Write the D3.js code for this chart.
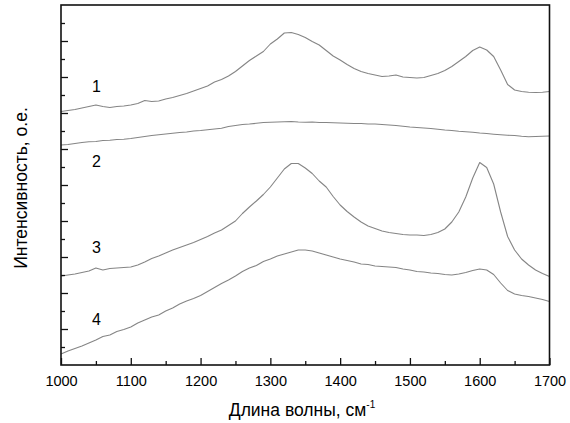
<!DOCTYPE html>
<html><head><meta charset="utf-8">
<script src="https://cdn.jsdelivr.net/npm/d3@7"></script>
<style>
html,body{margin:0;padding:0;background:#fff;}
svg{display:block;font-family:"Liberation Sans",Arial,sans-serif;}
</style></head>
<body>
<svg id="chart" width="570" height="423"></svg>
<script>
// Wavenumber grid (cm^-1), step 10
const wavenumbers = d3.range(1000, 1701, 10);
// Intensity, arbitrary units (о.е.)
const curve1 = [253.5,254.5,255.5,257,258.5,260,258.5,257.5,258.5,259,
  260,261.5,264.5,263.5,264,266,267.5,269.5,271.5,274,
  276.5,279,283,285.5,289,293.5,299,304.5,309,313.5,
  321,326,332,332.5,330.5,327.5,323.5,320,314.5,309,
  305,300.5,296.5,293.5,291.5,290,288.5,289,290,288,
  287.5,287,287.5,289.5,291.5,294.5,298.5,303.5,308.5,314.5,
  318,315,308.5,295,280.5,275,273.5,272.7,272.5,272.7,273.5];
const curve2 = [220,220.5,221.5,222.5,223.3,223.5,224.5,224.7,225.5,225.7,
  226.5,227.5,228.5,229.5,230.2,231,231.7,232.5,233,234,
  234.5,235.2,236,236.7,238.5,239.5,240.5,241,241.7,242.5,
  242.7,243,243.3,243.5,243,242.7,243,242.5,242.5,242.2,
  242,241.7,241.5,241.5,241,241,240.5,240,239.5,238.7,
  238,237.5,237,236.5,235.7,235,234.5,233.7,233.2,232.7,
  232,231.5,230.8,230.2,229.7,229.5,228.8,228.3,228.5,228.7,229];
const curve3 = [89,90,91,92.5,94,97,95,96.5,97,97.5,
  98,100,103,106.5,109,112,115,117.5,120,122.5,
  125.5,128.5,132,135,139.5,144,151.5,158,164,170.5,
  178,187,196,201.5,201.5,197,191.5,184,178,168.5,
  160,153.5,148,143,139,136.5,134,132.5,131.5,130.5,
  130,130,129.5,130.5,132.5,136,143,153,168,187,
  202.5,197.5,181,153,128.5,115,106,100,95,91.5,88.5];
const curve4 = [11,14,16.5,19,22,25,28.5,30,33.5,35.5,
  38,42,45,48,50,54,57,61,64,66.5,
  69.5,73.5,77.5,81.5,85,89,93.5,97,99.5,103.5,
  106,109,111,113,115,115,114,112,110,108,
  106,104.5,103,101,100.5,99,98.5,98,97.5,96,
  95,93.5,93,92,91.5,90.5,90,91,92.5,94.5,
  96,95,90.5,82,74.5,71,69.5,68.5,67,65.5,63.5];
const seriesNames = ["1","2","3","4"];
const labelAnchors = [{x:1050, y:273}, {x:1050, y:198}, {x:1050, y:112}, {x:1050, y:40}];
const xTicksMajor = [1000,1100,1200,1300,1400,1500,1600,1700];
const xTicksMinor = [1050,1150,1250,1350,1450,1550,1650];
const xDomain = [1000, 1700];
const yDomain = [0, 360];
const yTickStep = 18;
const xTitle = "Длина волны, см";
const xTitleSup = "-1";
const yTitle = "Интенсивность, о.е.";

const svg = d3.select("#chart");
const m = {left: 61, right: 20, top: 5, bottom: 58};
const W = 570, H = 423;
const x = d3.scaleLinear().domain(xDomain).range([m.left, W - m.right - 0.5]);
const y = d3.scaleLinear().domain(yDomain).range([H - m.bottom, m.top]);

const allSeries = [curve1, curve2, curve3, curve4];
const line = d3.line().x((d,i) => x(wavenumbers[i])).y(d => y(d));
svg.append("g").selectAll("path").data(allSeries).join("path")
  .attr("d", line).attr("fill", "none").attr("stroke", "#858585")
  .attr("stroke-width", 1.1).attr("stroke-linejoin", "round");

// x axis major/minor (inward ticks)
const gx = svg.append("g").attr("transform", `translate(0,${y(yDomain[0])})`)
  .call(d3.axisBottom(x).tickValues(xTicksMajor).tickSize(-7).tickPadding(11).tickFormat(d3.format("d")));
gx.select(".domain").remove();
gx.selectAll("text").attr("font-size", 14.5).attr("fill", "#000").attr("font-family", "Liberation Sans, Arial, sans-serif");
gx.selectAll("line").attr("stroke", "#111").attr("stroke-width", 1.3);
const gxm = svg.append("g").attr("transform", `translate(0,${y(yDomain[0])})`)
  .call(d3.axisBottom(x).tickValues(xTicksMinor).tickSize(-4).tickFormat(""));
gxm.select(".domain").remove();
gxm.selectAll("line").attr("stroke", "#111").attr("stroke-width", 1.3);

// y axis ticks (no labels)
const yTicks = d3.range(yDomain[0] + yTickStep, yDomain[1], yTickStep);
const yMajor = yTicks.filter(v => (v / yTickStep) % 2 === 0);
const yMinor = yTicks.filter(v => (v / yTickStep) % 2 === 1);
const gy = svg.append("g").attr("transform", `translate(${x(xDomain[0])},0)`)
  .call(d3.axisLeft(y).tickValues(yMajor).tickSize(-7).tickFormat(""));
gy.select(".domain").remove();
gy.selectAll("line").attr("stroke", "#111").attr("stroke-width", 1.3);
const gym = svg.append("g").attr("transform", `translate(${x(xDomain[0])},0)`)
  .call(d3.axisLeft(y).tickValues(yMinor).tickSize(-4).tickFormat(""));
gym.select(".domain").remove();
gym.selectAll("line").attr("stroke", "#111").attr("stroke-width", 1.3);

// frame
svg.append("rect").attr("x", x(xDomain[0])).attr("y", y(yDomain[1]))
  .attr("width", x(xDomain[1]) - x(xDomain[0])).attr("height", y(yDomain[0]) - y(yDomain[1]))
  .attr("fill", "none").attr("stroke", "#111").attr("stroke-width", 1.6);

// curve labels
svg.append("g").selectAll("text").data(seriesNames).join("text")
  .attr("x", (d,i) => x(labelAnchors[i].x) + 0.5)
  .attr("y", (d,i) => y(labelAnchors[i].y))
  .attr("text-anchor", "middle").attr("font-size", 16).attr("fill", "#000")
  .text(d => d);

// axis titles
const xt = svg.append("text").attr("x", 302).attr("y", 416).attr("text-anchor", "middle")
  .attr("font-size", 17.5).attr("fill", "#000");
xt.append("tspan").text(xTitle);
xt.append("tspan").attr("dy", -8).attr("font-size", 10).text(xTitleSup);

svg.append("text").attr("transform", "translate(27,188) rotate(-90)")
  .attr("text-anchor", "middle").attr("font-size", 17.5).attr("fill", "#000")
  .text(yTitle);
</script>
</body></html>
